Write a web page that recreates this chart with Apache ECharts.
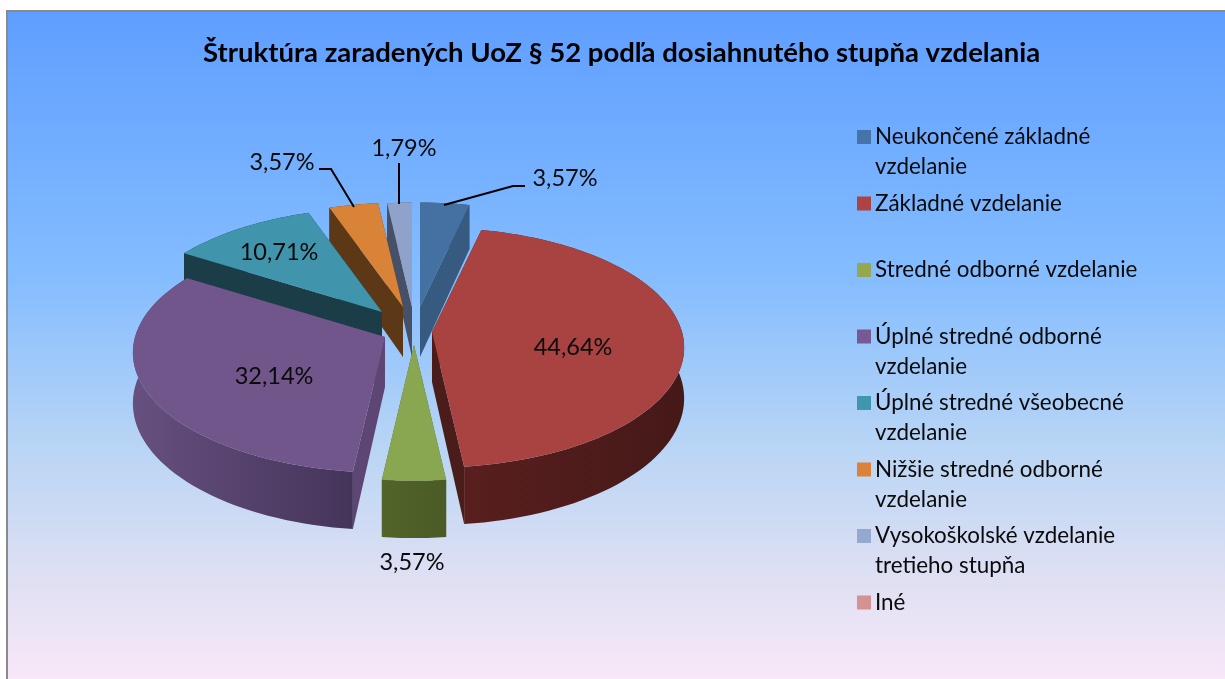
<!DOCTYPE html>
<html><head><meta charset="utf-8">
<style>html,body{margin:0;padding:0;background:#fff}#c{width:1225px;height:679px}</style>
<script src="https://cdn.jsdelivr.net/npm/echarts@6/dist/echarts.min.js"></script>
</head><body><div id="c"></div>
<script>
// Data
const chartTitle = 'Štruktúra zaradených UoZ § 52 podľa dosiahnutého stupňa vzdelania';
const categories = ['Neukončené základné vzdelanie','Základné vzdelanie','Stredné odborné vzdelanie','Úplné stredné odborné vzdelanie','Úplné stredné všeobecné vzdelanie','Nižšie stredné odborné vzdelanie','Vysokoškolské vzdelanie tretieho stupňa','Iné'];
const legendLines = ['Neukončené základné\nvzdelanie','Základné vzdelanie\n ','Stredné odborné vzdelanie\n ','Úplné stredné odborné\nvzdelanie','Úplné stredné všeobecné\nvzdelanie','Nižšie stredné odborné\nvzdelanie','Vysokoškolské vzdelanie\ntretieho stupňa','Iné\n '];
const shares = [3.57,44.64,3.57,32.14,10.71,3.57,1.79,0];

// Styles
const topColors  = ['#4470a2','#a84341','#89a650','#71568b','#4094ab','#d98339','#8fa2c9','#d49392'];
const legendColors = ['#4674a8','#ab4442','#94a84e','#775a94','#3f96ad','#db8238','#93a9cf','#d49392'];
const cutColors  = ['#375a80','#4a1d1a','#4f6128','#5d4674','#1b3d48','#5c3817','#465066','#6a4040'];
const rimLeft    = ['#375a80','#581f1e','#526429','#66507f','#1b3d48','#5c3817','#465066','#6a4040'];
const rimRight   = ['#375a80','#451918','#4a5b26','#45345a','#1b3d48','#5c3817','#465066','#6a4040'];
const drawOrder  = [3,7,8,6,5,4,2,1];
// slice displacement on screen (the explosion), px
const explodeX   = [6,18,0,-29,-32,-11,-2,0];
const explodeY   = [-23,2,15,7,-18,-23,-23,0];
const pieCenter = [414,330], radiusX = 250, radiusY = 118, perspective = 0.13, depth = 50;
const labelPos = [[565,178],[573,347],[412,562],[274,376],[279,252],[282,162],[404,148],null];
const leaders  = [[[444,205],[513,186],[525,186]],null,null,null,null,[[354,207],[331,169],[319,169]],[[399,204],[399,163]],null];
const labelFont = '23.5px Lato';

function project(i, u, v, h) {
  const s = 1 / (1 - perspective * v);
  return [pieCenter[0] + explodeX[i] + radiusX * u * s,
          pieCenter[1] + explodeY[i] + (radiusY * v + h) * s];
}
function polar(i, deg, h) {
  const a = deg * Math.PI / 180;
  return project(i, Math.sin(a), -Math.cos(a), h);
}
const total = shares.reduce((a, b) => a + b, 0);
function sliceRange(i) {
  let acc = 0;
  for (let k = 0; k < i; k++) acc += shares[k];
  return [acc / total * 360, (acc + shares[i]) / total * 360];
}
function renderSlice(i) {
  const [a0, a1] = sliceRange(i);
  const children = [];
  if (shares[i] <= 0) return { type: 'group', children };
  const angles = [];
  const n = Math.max(2, Math.ceil((a1 - a0) / 2));
  for (let k = 0; k <= n; k++) angles.push(a0 + (a1 - a0) * k / n);
  const rimTop = angles.map(a => polar(i, a, 0));
  const rimBot = angles.map(a => polar(i, a, depth));
  const apexT = project(i, 0, 0, 0), apexB = project(i, 0, 0, depth);
  const poly = (pts, fill, z2) => ({ type: 'polygon', z2, shape: { points: pts }, style: { fill } });
  children.push(poly([rimTop[n], rimBot[n], apexB, apexT], cutColors[i], 1));
  children.push(poly([rimTop[0], rimBot[0], apexB, apexT], cutColors[i], 2));
  const xs = rimTop.map(p => p[0]);
  const xMin = Math.min(...xs), xMax = Math.max(...xs);
  children.push(poly(rimTop.concat(rimBot.slice().reverse()), {
    type: 'linear', x: xMin, y: 0, x2: xMax, y2: 0, global: true,
    colorStops: [{ offset: 0, color: rimLeft[i] }, { offset: 1, color: rimRight[i] }]
  }, 3));
  children.push(poly([apexT].concat(rimTop), topColors[i], 4));
  if (leaders[i]) children.push({ type: 'polyline', z2: 5, shape: { points: leaders[i] }, style: { stroke: '#000', lineWidth: 2, fill: null } });
  if (labelPos[i]) children.push({ type: 'text', z2: 6, x: labelPos[i][0], y: labelPos[i][1], style: {
    text: shares[i].toFixed(2).replace('.', ',') + '%', font: labelFont, fill: '#0a0a0a', align: 'center', verticalAlign: 'middle' } });
  return { type: 'group', children };
}

const legendIcon = 'path://M0 8H14V22H0Z M0 0L0.01 0L0 0.01Z M14 60L13.99 60L14 59.99Z';
const chart = echarts.init(document.getElementById('c'), null, { renderer: 'canvas' });
chart.setOption({
  animation: false,
  backgroundColor: '#fff',
  title: { text: chartTitle, left: 203, top: 39, padding: 0, textStyle: { fontFamily: 'Lato', fontWeight: 'bold', fontSize: 27.5, color: '#000' } },
  legend: {
    orient: 'vertical', left: 857, top: 122, padding: 0, itemWidth: 14, itemHeight: 60, itemGap: 6.5,
    icon: legendIcon, data: categories, selectedMode: false,
    formatter: name => legendLines[categories.indexOf(name)],
    textStyle: { fontFamily: 'Lato', fontSize: 22.4, lineHeight: 30, color: '#0a0a0a', padding: [0,0,0,-1] }
  },
  graphic: [{ type: 'rect', z: -10, silent: true, shape: { x: 7, y: 11, width: 1260, height: 672 }, style: {
    stroke: '#8a8a8a', lineWidth: 2,
    fill: { type: 'linear', x: 0, y: 0, x2: 0, y2: 1, colorStops: [
      { offset: 0, color: '#5e9eff' }, { offset: 0.4, color: '#85bdff' }, { offset: 0.65, color: '#b9d5f5' }, { offset: 0.85, color: '#e0e0f3' }, { offset: 1, color: '#f9e8f9' }] } } }],
  series: categories.map((name, i) => ({
    type: 'custom', name, coordinateSystem: 'none', z: drawOrder[i] + 1, silent: true,
    itemStyle: { color: legendColors[i] }, data: [shares[i]],
    renderItem: () => renderSlice(i)
  }))
});
</script></body></html>
